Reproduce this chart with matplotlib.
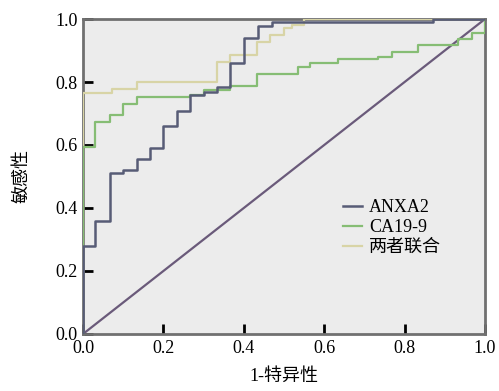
import matplotlib
matplotlib.use('Agg')
import matplotlib.pyplot as plt

plt.rcParams['font.family'] = ['Liberation Serif', 'Noto Sans CJK SC', 'DejaVu Sans']

# 
# ROC step data (1-specificity, sensitivity)
# 
anxa2_x = [0, 0, 0.03, 0.067, 0.10, 0.134, 0.167, 0.20, 0.233, 0.266, 0.30, 0.333, 0.366, 0.40, 0.435, 0.47, 0.87, 1.0]
anxa2_y = [0, 0.28, 0.36, 0.51, 0.52, 0.556, 0.59, 0.66, 0.708, 0.76, 0.768, 0.784, 0.86, 0.94, 0.978, 0.99, 1.0, 1.0]

ca199_x = [0, 0, 0.03, 0.067, 0.10, 0.134, 0.266, 0.30, 0.366, 0.433, 0.535, 0.565, 0.634, 0.734, 0.768, 0.833, 0.933, 0.967, 1.0, 1.0]
ca199_y = [0, 0.594, 0.673, 0.695, 0.73, 0.752, 0.76, 0.775, 0.787, 0.825, 0.848, 0.86, 0.873, 0.88, 0.895, 0.917, 0.935, 0.955, 0.955, 1.0]

combo_x = [0, 0, 0.072, 0.134, 0.333, 0.366, 0.433, 0.465, 0.50, 0.52, 0.55, 1.0]
combo_y = [0, 0.765, 0.777, 0.80, 0.863, 0.886, 0.927, 0.95, 0.97, 0.98, 1.0, 1.0]

ref_x = [0, 1]
ref_y = [0, 1]

series_names = ['ANXA2', 'CA19-9', '两者联合']
ticks = [0.0, 0.2, 0.4, 0.6, 0.8, 1.0]

fig = plt.figure(figsize=(4.99, 3.91), dpi=100)
ax = fig.add_axes([0.1663, 0.1458, 0.8057, 0.8056])
ax.set_facecolor('#ececec')

ax.plot(ref_x, ref_y, color='#6a5a7a', lw=1.6, zorder=2)
ax.plot(combo_x, combo_y, drawstyle='steps-post', color='#d8d4a6', lw=1.6, zorder=3, label=series_names[2])
ax.plot(ca199_x, ca199_y, drawstyle='steps-post', color='#86bd74', lw=1.6, zorder=4, label=series_names[1])
ax.plot(anxa2_x, anxa2_y, drawstyle='steps-post', color='#575c76', lw=1.8, zorder=5, label=series_names[0])

ax.set_xlim(0, 1)
ax.set_ylim(0, 1)
ax.set_xticks(ticks)
ax.set_yticks(ticks)
ax.set_xticklabels(['%0.1f' % t for t in ticks])
ax.set_yticklabels(['%0.1f' % t for t in ticks])
ax.tick_params(direction='in', length=7, width=2, labelsize=13, color='black', pad=4)
for s in ax.spines.values():
    s.set_color('#707070')
    s.set_linewidth(2)

ax.set_xlabel('1-特异性', fontsize=13, labelpad=8)
ax.set_ylabel('敏感性', fontsize=13, labelpad=18)

handles, labels = ax.get_legend_handles_labels()
order = [2, 1, 0]
leg = ax.legend([handles[i] for i in order], [labels[i] for i in order],
                loc='upper left', bbox_to_anchor=(0.63, 0.45), frameon=False,
                fontsize=13, handlelength=1.0, handletextpad=0.4,
                labelspacing=0.15, borderaxespad=0)

fig.savefig('out.png', dpi=100)
